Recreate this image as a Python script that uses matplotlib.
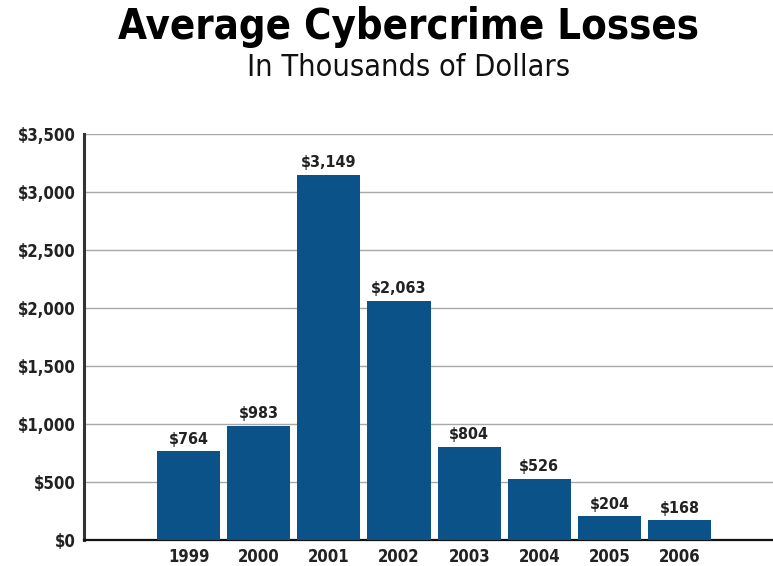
import matplotlib
matplotlib.use('Agg')
import matplotlib.pyplot as plt

years = ['1999', '2000', '2001', '2002', '2003', '2004', '2005', '2006']
losses = [764, 983, 3149, 2063, 804, 526, 204, 168]
yticks = [0, 500, 1000, 1500, 2000, 2500, 3000, 3500]

bar_color = '#0b5289'

fig = plt.figure(figsize=(7.73, 5.66), dpi=100)
ax = fig.add_axes([0.1087, 0.046, 0.8913, 0.717])

x = range(len(years))
bars = ax.bar(x, losses, width=0.9, color=bar_color, zorder=3)
for b, v in zip(bars, losses):
    ax.text(b.get_x() + b.get_width() / 2, v + 40, '${:,}'.format(v),
            ha='center', va='bottom', fontsize=11.5, fontweight='bold',
            color='#222222', fontstretch='condensed')

ax.set_xlim(-1.49, 8.33)
ax.set_ylim(0, 3500)
ax.set_yticks(yticks)
ax.set_yticklabels(['${:,}'.format(t) for t in yticks])
ax.set_xticks(list(x))
ax.set_xticklabels(years)
ax.tick_params(length=0, pad=6)
for lab in ax.get_yticklabels() + ax.get_xticklabels():
    lab.set_fontsize(12)
    lab.set_fontweight('bold')
    lab.set_color('#222222')
    lab.set_fontstretch('condensed')

ax.yaxis.grid(True, color='#a8a8a8', linewidth=1.0, zorder=0)
ax.spines['top'].set_visible(False)
ax.spines['right'].set_visible(False)
ax.spines['left'].set_linewidth(2.2)
ax.spines['left'].set_color('#333333')
ax.spines['bottom'].set_linewidth(1.6)
ax.spines['bottom'].set_color('#111111')

fig.text(0.528, 0.952, 'Average Cybercrime Losses', ha='center', va='center',
         fontsize=30, fontweight='heavy', fontstretch='condensed', color='black')
fig.text(0.528, 0.88, 'In Thousands of Dollars', ha='center', va='center',
         fontsize=22, fontweight='light', fontstretch='condensed', color='#111111')

fig.savefig('out.png', dpi=100)
